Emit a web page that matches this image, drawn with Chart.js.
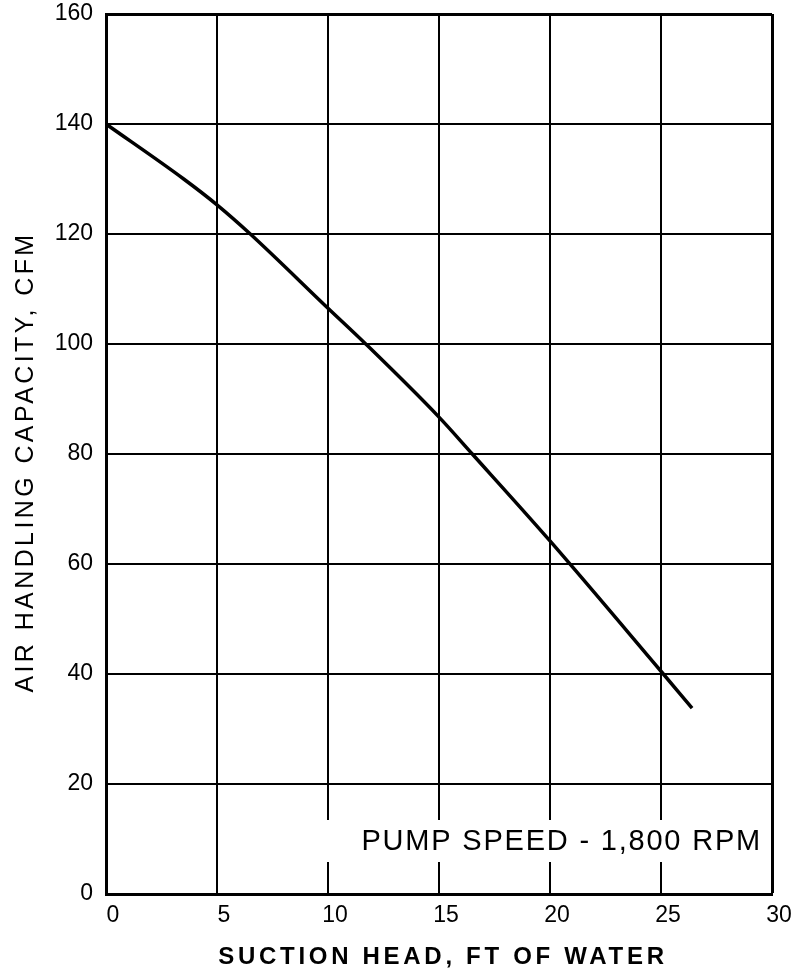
<!DOCTYPE html>
<html>
<head>
<meta charset="utf-8">
<script src="https://cdn.jsdelivr.net/npm/chart.js@4/dist/chart.umd.min.js"></script>
<style>
  html, body { margin: 0; padding: 0; background: #fff; }
  #wrap { width: 799px; height: 974px; }
</style>
</head>
<body>
<div id="wrap"><canvas id="c" width="799" height="974"></canvas></div>
<script>
// Data
const suctionHead = [0, 3.5, 5, 6.5, 10, 11.7, 15, 16.5, 20, 25, 26.4];
const airCapacity = [140, 130, 125.3, 120, 106.5, 100, 86.7, 80, 64.2, 40.5, 33.8];
const xTicks = [0, 5, 10, 15, 20, 25, 30];
const yTicks = [0, 20, 40, 60, 80, 100, 120, 140, 160];
const xTitle = 'SUCTION HEAD, FT OF WATER';
const yTitle = 'AIR HANDLING CAPACITY, CFM';
const note = 'PUMP SPEED - 1,800 RPM';

const points = suctionHead.map((x, i) => ({ x: x, y: airCapacity[i] }));

const titlesPlugin = {
  id: 'titles',
  beforeDatasetsDraw(chart) {
    // white box behind the note, interrupting grid lines
    const { ctx, chartArea: a } = chart;
    ctx.save();
    ctx.fillStyle = '#fff';
    ctx.fillRect(a.left + 220, a.bottom - 74, a.right - a.left - 220 - 2, 42);
    ctx.restore();
  },
  afterDraw(chart) {
    const { ctx, chartArea: a } = chart;
    ctx.save();
    ctx.fillStyle = '#000';
    ctx.textBaseline = 'middle';
    // note
    ctx.letterSpacing = '1.8px';
    ctx.font = '29px "Liberation Sans", Arial, sans-serif';
    ctx.textAlign = 'right';
    ctx.fillText(note, a.right - 10, a.bottom - 52);
    // x title
    ctx.letterSpacing = '3.7px';
    ctx.font = 'bold 24px "Liberation Sans", Arial, sans-serif';
    ctx.textAlign = 'center';
    ctx.fillText(xTitle, 443, 957);
    // y title
    ctx.letterSpacing = '3.4px';
    ctx.font = '25px "Liberation Sans", Arial, sans-serif';
    ctx.translate(26, 464);
    ctx.rotate(-Math.PI / 2);
    ctx.fillText(yTitle, 2, 0);
    ctx.restore();
  }
};

new Chart(document.getElementById('c'), {
  type: 'scatter',
  data: {
    datasets: [{
      data: points,
      showLine: true,
      borderColor: '#000',
      borderWidth: 3.5,
      pointRadius: 0,
      cubicInterpolationMode: 'monotone',
      fill: false
    }]
  },
  options: {
    responsive: false,
    animation: false,
    layout: { padding: { top: 14, right: 27, left: 0, bottom: 0 } },
    plugins: { legend: { display: false }, tooltip: { enabled: false } },
    scales: {
      x: {
        type: 'linear',
        min: 0, max: 30,
        afterBuildTicks: (s) => { s.ticks = xTicks.map(v => ({ value: v })); },
        afterFit: (s) => { s.height = 80; s.paddingRight = 0; s.paddingLeft = 0; },
        grid: {
          color: '#000',
          lineWidth: (c) => (c.tick && c.tick.value === 30 ? 3 : 2),
          drawTicks: false
        },
        border: { color: '#000', width: 3 },
        ticks: {
          color: '#000',
          padding: 8,
          labelOffset: 7,
          maxRotation: 0,
          autoSkip: false,
          font: { family: '"Liberation Sans", Arial, sans-serif', size: 23 }
        }
      },
      y: {
        type: 'linear',
        min: 0, max: 160,
        afterBuildTicks: (s) => { s.ticks = yTicks.map(v => ({ value: v })); },
        afterFit: (s) => { s.width = 106; s.paddingTop = 0; s.paddingBottom = 0; },
        grid: {
          color: '#000',
          lineWidth: (c) => (c.tick && c.tick.value === 160 ? 3 : 2),
          drawTicks: false
        },
        border: { color: '#000', width: 3 },
        ticks: {
          color: '#000',
          padding: 13,
          autoSkip: false,
          font: { family: '"Liberation Sans", Arial, sans-serif', size: 23 }
        }
      }
    }
  },
  plugins: [titlesPlugin]
});
</script>
</body>
</html>
